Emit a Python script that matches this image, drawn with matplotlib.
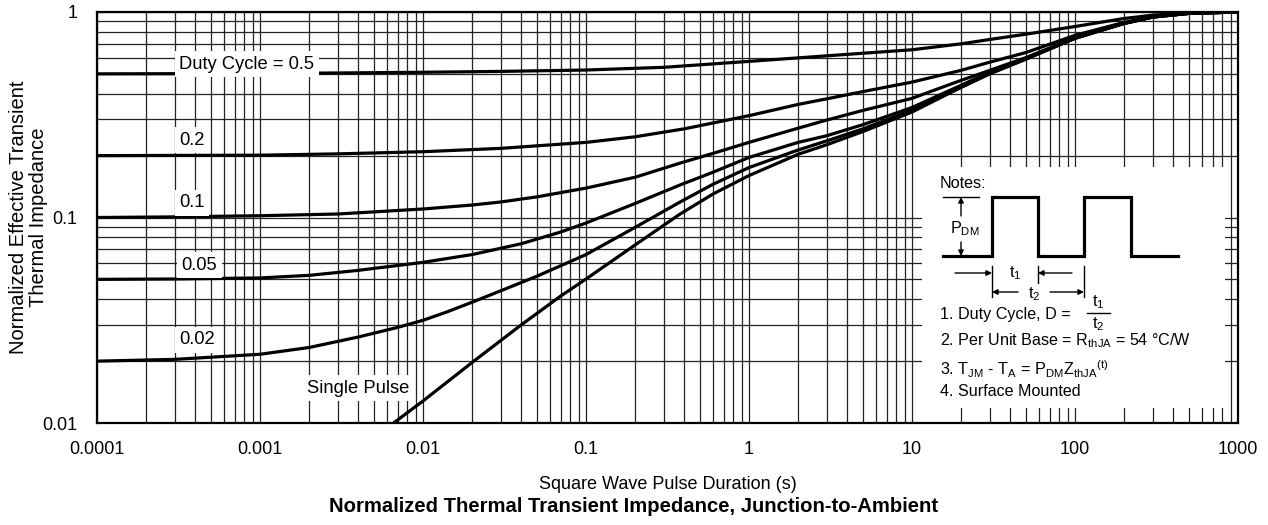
import matplotlib
matplotlib.use("Agg")
import matplotlib.pyplot as plt
from matplotlib.ticker import NullFormatter

plt.rcParams['font.family'] = ['Liberation Sans', 'DejaVu Sans']
plt.rcParams['mathtext.fontset'] = 'custom'
plt.rcParams['mathtext.rm'] = 'Liberation Sans'

# pulse duration (s) and normalized Zth for each duty cycle
t_d50 = [1e-4, 1e-3, 3e-3, 1e-2, 3e-2, 0.1, 0.3, 1, 3, 10, 20, 30, 50, 100, 200, 300, 500, 1000]
z_d50 = [0.500, 0.502, 0.505, 0.509, 0.514, 0.522, 0.538, 0.575, 0.612, 0.655, 0.70, 0.735, 0.78, 0.85, 0.93, 0.965, 0.99, 1.0]

t_d20 = [1e-4, 1e-3, 3e-3, 1e-2, 3e-2, 0.1, 0.2, 0.4, 1, 2, 3, 5, 10, 20, 30, 50, 100, 200, 300, 500, 1000]
z_d20 = [0.200, 0.201, 0.204, 0.209, 0.217, 0.232, 0.247, 0.270, 0.313, 0.355, 0.378, 0.410, 0.456, 0.52, 0.57, 0.635, 0.77, 0.89, 0.95, 0.985, 1.0]

t_d10 = [1e-4, 3e-4, 1e-3, 3e-3, 1e-2, 2e-2, 3e-2, 5e-2, 0.1, 0.2, 0.378, 0.6, 1, 2, 3, 5, 10, 20, 30, 50, 100, 200, 300, 500, 1000]
z_d10 = [0.100, 0.1007, 0.102, 0.104, 0.110, 0.115, 0.119, 0.126, 0.139, 0.157, 0.184, 0.205, 0.232, 0.272, 0.298, 0.332, 0.380, 0.465, 0.52, 0.60, 0.75, 0.88, 0.945, 0.985, 1.0]

t_d05 = [1e-4, 3e-4, 1e-3, 2e-3, 4e-3, 1e-2, 2e-2, 4e-2, 7e-2, 0.1, 0.2, 0.378, 0.6, 1, 2, 3, 5, 10, 20, 30, 50, 100, 200, 300, 500, 1000]
z_d05 = [0.0500, 0.0502, 0.0508, 0.0523, 0.0553, 0.0605, 0.0660, 0.0745, 0.0850, 0.0940, 0.117, 0.144, 0.166, 0.196, 0.232, 0.250, 0.283, 0.343, 0.440, 0.510, 0.595, 0.745, 0.88, 0.945, 0.985, 1.0]

t_d02 = [1e-4, 3e-4, 1e-3, 2e-3, 4e-3, 7e-3, 1e-2, 1.4e-2, 2e-2, 3e-2, 5e-2, 0.1, 0.2, 0.378, 0.6, 1, 2, 3, 5, 10, 20, 30, 50, 100, 200, 300, 500, 1000]
z_d02 = [0.0200, 0.0204, 0.0216, 0.0233, 0.0262, 0.0292, 0.0316, 0.0347, 0.0387, 0.0440, 0.0518, 0.0660, 0.0895, 0.119, 0.145, 0.175, 0.213, 0.236, 0.270, 0.333, 0.430, 0.502, 0.59, 0.745, 0.88, 0.945, 0.985, 1.0]

t_single = [0.0066, 0.01, 0.02, 0.04, 0.07, 0.1, 0.2, 0.378, 0.6, 1, 2, 3, 5, 10, 20, 30, 50, 100, 200, 300, 500, 1000]
z_single = [0.0100, 0.0128, 0.0197, 0.0300, 0.0415, 0.0502, 0.0735, 0.104, 0.130, 0.160, 0.203, 0.226, 0.262, 0.326, 0.430, 0.50, 0.59, 0.745, 0.88, 0.945, 0.985, 1.0]

x_ticks = [1e-4, 1e-3, 1e-2, 1e-1, 1, 10, 100, 1000]
x_tick_labels = ['0.0001', '0.001', '0.01', '0.1', '1', '10', '100', '1000']
y_ticks = [0.01, 0.1, 1]
y_tick_labels = ['0.01', '0.1', '1']

curves = [
    (t_d50, z_d50, 'Duty Cycle = 0.5', 3.2e-4, 0.558),
    (t_d20, z_d20, '0.2', 3.2e-4, 0.238),
    (t_d10, z_d10, '0.1', 3.2e-4, 0.118),
    (t_d05, z_d05, '0.05', 3.3e-4, 0.0587),
    (t_d02, z_d02, '0.02', 3.2e-4, 0.0254),
    (t_single, z_single, 'Single Pulse', 1.94e-3, 0.0148),
]

W, H = 1268, 525
fig = plt.figure(figsize=(W / 100, H / 100), dpi=100)
ax = fig.add_axes([97 / W, 1 - 423 / H, 1141 / W, 411 / H])
ax.set_xscale('log')
ax.set_yscale('log')
ax.set_xlim(1e-4, 1000)
ax.set_ylim(0.01, 1)

ax.grid(True, which='both', color='#222222', linewidth=0.9)
ax.set_axisbelow(True)
for s in ax.spines.values():
    s.set_linewidth(1.6)

for t, z, lab, lx, ly in curves:
    ax.plot(t, z, color='black', linewidth=2.3, solid_capstyle='butt',
            solid_joinstyle='round', zorder=3)
    ax.text(lx, ly, lab, fontsize=13.2, ha='left', va='center', zorder=4,
            bbox=dict(boxstyle='square,pad=0.25', facecolor='white', edgecolor='none'))

ax.set_xticks(x_ticks)
ax.set_xticklabels(x_tick_labels)
ax.set_yticks(y_ticks)
ax.set_yticklabels(y_tick_labels)
ax.xaxis.set_minor_formatter(NullFormatter())
ax.yaxis.set_minor_formatter(NullFormatter())
ax.tick_params(which='both', length=0, labelsize=13)
ax.tick_params(axis='y', pad=14)
ax.tick_params(axis='x', pad=13)

ax.set_xlabel('Square Wave Pulse Duration (s)', fontsize=13, labelpad=13)
ax.set_ylabel('Normalized Effective Transient\nThermal Impedance', fontsize=14.5, linespacing=1.05)
ax.yaxis.set_label_coords(-0.043, 0.5)
fig.text(0.5, 1 - 506 / H, 'Normalized Thermal Transient Impedance, Junction-to-Ambient',
         fontsize=14.6, fontweight='bold', ha='center', va='center')

# notes panel, drawn in figure pixel units
nx = fig.add_axes([922 / W, 1 - 408 / H, 303 / W, 241 / H])
nx.set_xlim(922, 1225)
nx.set_ylim(408, 167)
nx.axis('off')
nx.add_patch(plt.Rectangle((922, 167), 303, 241, facecolor='white', edgecolor='none', zorder=0))

lo, hi = 256, 197
edges = [992, 1038, 1084, 1131]
px = [943, edges[0], edges[0], edges[1], edges[1], edges[2], edges[2], edges[3], edges[3], 1178]
py = [lo, lo, hi, hi, lo, lo, hi, hi, lo, lo]
nx.plot(px, py, color='black', linewidth=2.3, solid_joinstyle='miter')

fs = 11.6
nx.text(940, 183, 'Notes:', fontsize=fs, va='center', ha='left')
nx.plot([943, 979], [hi, hi], color='black', linewidth=1)
arr = dict(arrowstyle='-|>', color='black', linewidth=1, mutation_scale=8, shrinkA=0, shrinkB=0)
nx.annotate('', xy=(961, hi), xytext=(961, 216), arrowprops=arr)
nx.annotate('', xy=(961, lo), xytext=(961, 242), arrowprops=arr)
nx.text(965, 229, r'P$_\mathregular{DM}$', fontsize=fs, va='center', ha='center')

nx.plot([edges[0], edges[0]], [266, 297], color='black', linewidth=1)
nx.plot([edges[1], edges[1]], [266, 283], color='black', linewidth=1)
nx.plot([edges[2], edges[2]], [266, 297], color='black', linewidth=1)
nx.annotate('', xy=(edges[0], 273), xytext=(955, 273), arrowprops=arr)
nx.annotate('', xy=(edges[1], 273), xytext=(1072, 273), arrowprops=arr)
nx.text(1015, 273, r't$_\mathregular{1}$', fontsize=fs, va='center', ha='center')
nx.annotate('', xy=(edges[0], 292), xytext=(1018, 292), arrowprops=arr)
nx.annotate('', xy=(edges[2], 292), xytext=(1050, 292), arrowprops=arr)
nx.text(1034, 294, r't$_\mathregular{2}$', fontsize=fs, va='center', ha='center')

nx.text(940, 315, '1. Duty Cycle, D =', fontsize=fs, va='center', ha='left')
nx.text(1098, 302, r't$_\mathregular{1}$', fontsize=fs, va='center', ha='center')
nx.plot([1087, 1110], [313, 313], color='black', linewidth=1)
nx.text(1098, 324, r't$_\mathregular{2}$', fontsize=fs, va='center', ha='center')
nx.text(940, 341, r'2. Per Unit Base = R$_\mathregular{thJA}$ = 54 °C/W', fontsize=fs, va='center', ha='left')
nx.text(940, 369, r'3. T$_\mathregular{JM}$ - T$_\mathregular{A}$ = P$_\mathregular{DM}$Z$_\mathregular{thJA}{}^\mathregular{(t)}$',
        fontsize=fs, va='center', ha='left')
nx.text(940, 392, '4. Surface Mounted', fontsize=fs, va='center', ha='left')

fig.savefig('out.png', dpi=100)
